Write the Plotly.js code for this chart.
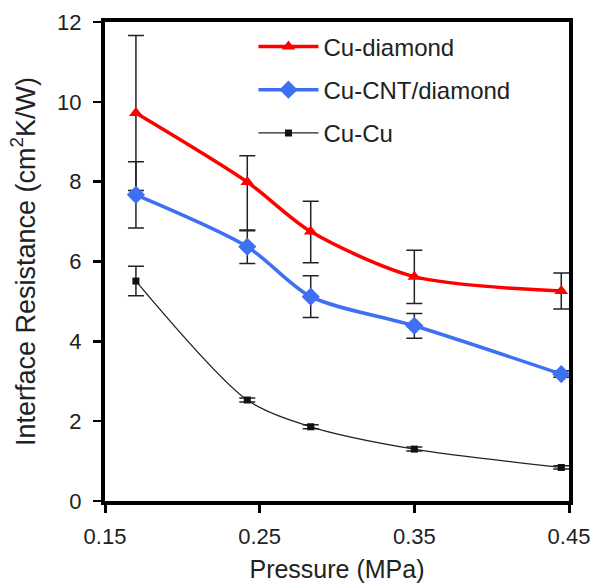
<!DOCTYPE html>
<html>
<head>
<meta charset="utf-8">
<script src="https://cdn.plot.ly/plotly-3.0.1.min.js"></script>
<style>html,body{margin:0;padding:0;background:#fff;}#chart{width:599px;height:585px;}</style>
</head>
<body>
<div id="chart"></div>
<script>
const pressure = [0.170, 0.242, 0.283, 0.350, 0.445];
const cuDiamond = [9.72, 7.99, 6.75, 5.62, 5.26];
const cuDiamondErrPlus = [1.94, 0.66, 0.76, 0.66, 0.45];
const cuDiamondErrMinus = [1.94, 1.22, 0.78, 0.67, 0.45];
const cuCntDiamond = [7.67, 6.37, 5.12, 4.39, 3.18];
const cuCntDiamondErr = [0.83, 0.42, 0.52, 0.31, 0.08];
const cuCu = [5.51, 2.53, 1.86, 1.30, 0.84];
const cuCuErr = [0.37, 0.05, 0.05, 0.05, 0.04];
const xTicks = [0.15, 0.25, 0.35, 0.45];
const xTickText = ['0.15', '0.25', '0.35', '0.45'];
const yTicks = [0, 2, 4, 6, 8, 10, 12];

const errStyle = {color: '#222', thickness: 1.5, width: 8};
const traces = [
  {
    name: 'Cu-diamond', x: pressure, y: cuDiamond, type: 'scatter', mode: 'lines+markers',
    legendgroup: 'a',
    line: {color: '#ff0000', width: 3.5, shape: 'spline', smoothing: 0.8},
    marker: {symbol: 'triangle-up', size: 12, color: '#ff0000'},
    error_y: Object.assign({type: 'data', symmetric: false, array: cuDiamondErrPlus, arrayminus: cuDiamondErrMinus}, errStyle)
  },
  {
    name: 'Cu-CNT/diamond', x: pressure, y: cuCntDiamond, type: 'scatter', mode: 'lines+markers',
    legendgroup: 'b',
    line: {color: '#3f6ff2', width: 3.5, shape: 'spline', smoothing: 0.8},
    marker: {symbol: 'diamond', size: 14, color: '#3f6ff2'},
    error_y: Object.assign({type: 'data', array: cuCntDiamondErr}, errStyle)
  },
  {
    name: 'Cu-Cu', x: pressure, y: cuCu, type: 'scatter', mode: 'lines+markers',
    legendgroup: 'c',
    line: {color: '#222', width: 1.3, shape: 'spline', smoothing: 0.8},
    marker: {symbol: 'square', size: 7, color: '#111'},
    error_y: Object.assign({type: 'data', array: cuCuErr}, errStyle)
  }
];

const fam = '"Liberation Sans", Arial, sans-serif';
const tickFont = {family: fam, size: 22, color: '#222'};
const layout = {
  width: 599, height: 585,
  margin: {l: 105, r: 30, t: 22, b: 84},
  paper_bgcolor: '#fff', plot_bgcolor: '#fff',
  showlegend: true,
  legend: {
    x: 0.32, y: 0.995, xanchor: 'left', yanchor: 'top',
    font: {family: fam, size: 24, color: '#222'},
    bgcolor: 'rgba(0,0,0,0)', traceorder: 'grouped', tracegroupgap: 9, itemwidth: 60
  },
  xaxis: {
    range: [0.15, 0.45], tickvals: xTicks, ticktext: xTickText,
    showgrid: false, zeroline: false,
    showline: true, linecolor: '#000', linewidth: 4, mirror: true,
    ticks: 'outside', ticklen: 8, tickwidth: 3, tickcolor: '#000',
    tickfont: tickFont, ticklabelstandoff: 5,
    title: {text: 'Pressure (MPa)', font: {family: fam, size: 25, color: '#222'}, standoff: 13}
  },
  yaxis: {
    range: [0, 12], tickvals: yTicks,
    showgrid: false, zeroline: false,
    showline: true, linecolor: '#000', linewidth: 4, mirror: true,
    ticks: 'outside', ticklen: 8, tickwidth: 2.5, tickcolor: '#000',
    tickfont: tickFont, ticklabelstandoff: 7,
    title: {text: 'Interface Resistance (cm<sup>2</sup>K/W)', font: {family: fam, size: 27, color: '#222'}, standoff: 15}
  }
};

Plotly.newPlot('chart', traces, layout, {displayModeBar: false, staticPlot: true});
</script>
</body>
</html>
